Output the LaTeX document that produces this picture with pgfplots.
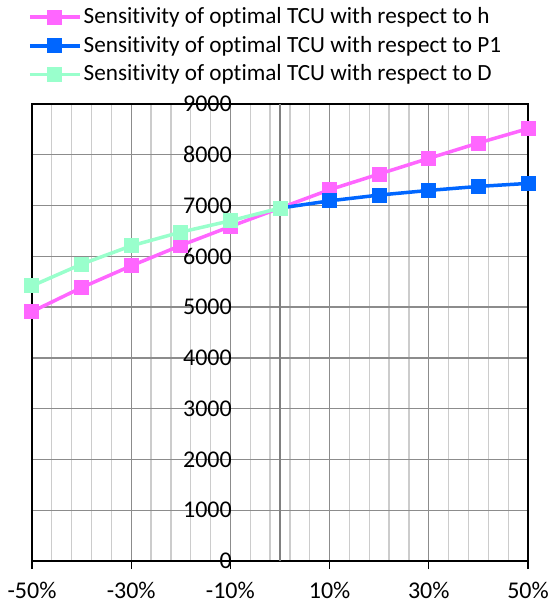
\documentclass[border=0pt]{standalone}
\usepackage{pgfplots}
\pgfplotsset{compat=1.18}
\usepackage{fontspec}
\setmainfont{Carlito}[Ligatures=NoCommon]
\definecolor{hcol}{HTML}{FF66FF}
\definecolor{pcol}{HTML}{0066FF}
\definecolor{dcol}{HTML}{99FFCC}
\begin{document}
\fontsize{24}{28}\selectfont
\begin{tikzpicture}
  \useasboundingbox (-32pt,-44pt) rectangle (518pt,561pt);
  \begin{axis}[
    scale only axis,
    width=496pt, height=457pt,
    xmin=-50, xmax=50, ymin=0, ymax=9000,
    xtick={-50,-30,-10,10,30,50},
    xticklabels={-50\%,-30\%,-10\%,10\%,30\%,50\%},
    minor x tick num=4,
    ytick={0,1000,...,9000},
    tick align=outside,
    major tick length=8pt,
    minor tick length=0pt,
    ytick style={draw=none},
    xtick style={color=black, line width=1.2pt},
    xtick pos=bottom,
    ytick pos=left,
    grid=both,
    major grid style={color=black!45, line width=1.3pt},
    minor grid style={color=black!20, line width=1.3pt},
    extra x ticks={0},
    extra x tick labels={},
    extra x tick style={grid=major, major grid style={color=black!50, line width=2pt}, major tick length=0pt},
    axis line style={black, line width=1.3pt},
    yticklabel style={anchor=east, inner sep=0pt, xshift=208pt},
    xticklabel style={inner sep=0pt, yshift=-13pt},
    /pgf/number format/assume math mode=true,
    /pgf/number format/1000 sep={},
    tick label style={font=\fontsize{24}{28}\selectfont},
    legend cell align=left,
    legend style={draw=none, fill=none, at={(axis description cs:0,1)}, anchor=north west,
      xshift=-4pt, yshift=99pt, font=\fontsize{23.2}{27}\selectfont, row sep=5pt,
      inner sep=0pt},
    legend image code/.code={
      \draw[mark repeat=2, mark phase=2] plot coordinates {(0pt,0pt) (25pt,0pt) (50pt,0pt)};},
    every axis plot/.append style={line width=3.5pt, mark=square*, mark size=7pt,
      mark options={line width=0pt}},
  ]
    \addplot[color=hcol] coordinates {
      (-50,4911) (-40,5385) (-30,5813) (-20,6214) (-10,6588) (0,6950)
      (10,7312) (20,7621) (30,7929) (40,8232) (50,8515)};
    \addplot[color=pcol] coordinates {
      (0,6950) (10,7093) (20,7207) (30,7298) (40,7377) (50,7436)};
    \addplot[color=dcol] coordinates {
      (-50,5418) (-40,5846) (-30,6207) (-20,6477) (-10,6700) (0,6950)};
    \legend{Sensitivity of optimal TCU with respect to h,
      Sensitivity of optimal TCU with respect to P1,
      Sensitivity of optimal TCU with respect to D}
  \end{axis}
\end{tikzpicture}
\end{document}
